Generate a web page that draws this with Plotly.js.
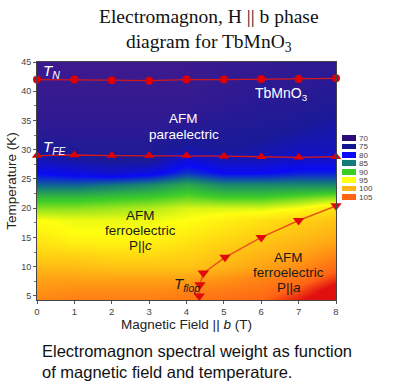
<!DOCTYPE html>
<html><head><meta charset="utf-8">
<script src="https://cdn.plot.ly/plotly-3.0.1.min.js"></script>
<style>html,body{margin:0;padding:0;background:#fff}#c{width:400px;height:385px}</style>
</head><body><div id="c"></div>
<script>
// Heatmap grid: magnetic field (T) and temperature (K)
const fieldGrid = [0, 1, 2, 3, 4, 5, 6, 7, 8];
const tempGrid = [4, 6, 8, 10, 12, 14, 16, 18, 20, 22, 24, 26, 28, 30, 34, 38, 42, 45];
const weight = [
  [103, 103.5, 103.5, 103.5, 104, 104.5, 105, 107, 109],
  [102, 102.5, 102.5, 102.5, 103, 103.5, 104, 105.5, 108],
  [101, 101, 101, 101, 101, 102, 103, 104, 106],
  [99.5, 99.5, 99, 99, 99, 100, 101, 102.5, 104.5],
  [98, 98, 97.5, 97.5, 98, 99, 100, 101, 103],
  [97, 96, 96, 96, 97, 98, 99, 100, 101],
  [96, 95, 95, 95, 96, 97, 98, 99, 100],
  [95, 94.5, 94.5, 94.5, 95, 96, 97, 98, 99],
  [92, 92, 92.5, 93, 94, 94, 94, 95, 97],
  [89, 89, 89.5, 90, 91, 90, 90, 91, 92],
  [84, 84, 85, 86, 88, 86, 86, 86, 86],
  [80, 79, 78, 79, 82, 80, 80, 81, 81],
  [77, 76, 75, 75, 79, 77, 77, 78, 78],
  [75, 74, 74, 74, 76, 75, 76, 77, 77],
  [72, 72, 72, 72, 73, 74, 74, 75, 76],
  [71, 71, 71, 71, 71, 72, 73, 73, 74],
  [70, 70, 70, 70, 70, 71, 72, 72, 73],
  [70, 70, 70, 70, 70, 71, 71, 72, 72]
];
// Phase boundaries
const tnField = [0, 1, 2, 3, 4, 5, 6, 7, 8];
const tnTemp = [42, 42, 41.9, 41.8, 42, 42, 42.1, 42.1, 42.2];
const tfeField = [0, 1, 2, 3, 4, 5, 6, 7, 8];
const tfeTemp = [29, 29.1, 29, 29, 29, 28.9, 28.8, 28.7, 28.8];
const flopField = [4.34, 4.36, 4.45, 5.03, 6.0, 7.0, 8.0];
const flopTemp = [5.0, 6.9, 8.9, 11.6, 15.0, 17.9, 20.4];
// Legend key
const keyLabels = ['70', '75', '80', '85', '90', '95', '100', '105'];
const keyColors = ['#2c0c78', '#14148c', '#0a0af5', '#147a7a', '#3ccc28', '#ffff10', '#ffb414', '#ff6414'];

const cscale = [
  [0.00, '#3c1c90'], [0.119, '#3a1a8e'], [0.238, '#1a1a98'], [0.357, '#0a0af5'],
  [0.476, '#147a7a'], [0.595, '#3ccc28'], [0.714, '#ffff10'], [0.833, '#ffb414'],
  [0.952, '#ff6414'], [1.0, '#e01010']
];

const traces = [
  {type: 'heatmap', x: fieldGrid, y: tempGrid, z: weight, zmin: 65, zmax: 107, zsmooth: 'best',
   colorscale: cscale, showscale: false, hoverinfo: 'skip'},
  {type: 'scatter', mode: 'lines+markers', x: tnField, y: tnTemp,
   line: {color: '#d41818', width: 1.3}, marker: {symbol: 'circle', size: 8, color: '#e00000'}, cliponaxis: false},
  {type: 'scatter', mode: 'lines+markers', x: tfeField, y: tfeTemp,
   line: {color: '#d41818', width: 1.3}, marker: {symbol: 'triangle-up', size: 9, color: '#e00000'}, cliponaxis: false},
  {type: 'scatter', mode: 'lines+markers', x: flopField, y: flopTemp,
   line: {color: '#e85418', width: 1.5}, marker: {symbol: 'triangle-down', size: 10, color: '#e00a0a'}, cliponaxis: false},
  {type: 'bar', orientation: 'h', x: keyLabels.map(() => 1), y: keyLabels, width: 0.68,
   marker: {color: keyColors, line: {width: 0}}, xaxis: 'x2', yaxis: 'y2', hoverinfo: 'skip'}
];

function lab(x, y, text, color, size) {
  return {x: x, y: y, xref: 'x', yref: 'y', showarrow: false, text: text,
          font: {size: size || 13.5, color: color}};
}

const W = 363, H = 238;
const dark = '#1a1a1a';
const layout = {
  width: 400, height: 385,
  margin: {l: 37, r: 0, t: 62, b: 85},
  paper_bgcolor: '#fff', plot_bgcolor: '#fff',
  showlegend: false,
  font: {family: 'Liberation Sans, Arial, sans-serif', color: '#333'},
  xaxis: {domain: [0, 299 / W], range: [0, 8], dtick: 1, ticks: 'outside', ticklen: 3, tickcolor: '#555',
          showline: true, linecolor: '#444', mirror: true, showgrid: false, zeroline: false,
          tickfont: {size: 9.5, color: '#444'},
          title: {text: 'Magnetic Field || <i>b</i> (T)', font: {size: 13.5, color: '#222'}, standoff: 2}},
  yaxis: {range: [4.3, 45], dtick: 5, ticks: 'outside', ticklen: 3, tickcolor: '#555',
          minor: {dtick: 2.5, ticks: 'outside', ticklen: 2, tickcolor: '#777'},
          showline: true, linecolor: '#444', mirror: true, showgrid: false, zeroline: false,
          tickfont: {size: 9, color: '#444'},
          title: {text: 'Temperature (K)', font: {size: 13.5, color: '#222'}, standoff: 1}},
  xaxis2: {domain: [305 / W, 319 / W], range: [0, 1], anchor: 'y2', visible: false, fixedrange: true},
  yaxis2: {domain: [0.415, 0.698], anchor: 'x2', type: 'category', autorange: 'reversed',
           tickmode: 'array', tickvals: keyLabels, ticktext: keyLabels,
           side: 'right', showline: false, showgrid: false, zeroline: false, ticks: '',
           tickfont: {size: 8, color: '#444'}, ticklabelstandoff: 2},
  bargap: 0,
  annotations: [
    {x: 172 / W, y: 1.245, xref: 'paper', yref: 'paper', xanchor: 'center', yanchor: 'top', showarrow: false,
     text: 'Electromagnon, H || b phase<br>diagram for TbMnO<sub>3</sub>',
     font: {family: 'Liberation Serif, Times New Roman, serif', size: 19.5, color: '#111'}},
    {x: 0.1, y: 43.4, xref: 'x', yref: 'y', xanchor: 'left', yanchor: 'middle', showarrow: false,
     text: '<i>T<sub>N</sub></i>', font: {size: 15, color: '#fff'}},
    {x: 0.1, y: 30.4, xref: 'x', yref: 'y', xanchor: 'left', yanchor: 'middle', showarrow: false,
     text: '<i>T<sub>FE</sub></i>', font: {size: 15, color: '#fff'}},
    lab(6.55, 39.6, 'TbMnO<sub>3</sub>', '#fff', 14),
    lab(3.93, 35.4, 'AFM', '#fff'),
    lab(3.93, 32.6, 'paraelectric', '#fff'),
    lab(2.78, 18.7, 'AFM', dark),
    lab(2.78, 16.2, 'ferroelectric', dark),
    lab(2.78, 13.7, 'P||<i>c</i>', dark),
    lab(6.74, 11.5, 'AFM', dark),
    lab(6.74, 8.95, 'ferroelectric', dark),
    lab(6.74, 6.5, 'P||<i>a</i>', dark),
    {x: 3.62, y: 6.9, xref: 'x', yref: 'y', xanchor: 'left', showarrow: false,
     text: '<i>T<sub>flop</sub></i>', font: {size: 15, color: dark}},
    {x: 3 / W, y: -40 / H, xref: 'paper', yref: 'paper', xanchor: 'left', yanchor: 'top', align: 'left',
     showarrow: false, text: 'Electromagnon spectral weight as function<br>of magnetic field and temperature.',
     font: {size: 16.5, color: '#111'}}
  ]
};
Plotly.newPlot('c', traces, layout, {staticPlot: true, displayModeBar: false});
</script></body></html>
